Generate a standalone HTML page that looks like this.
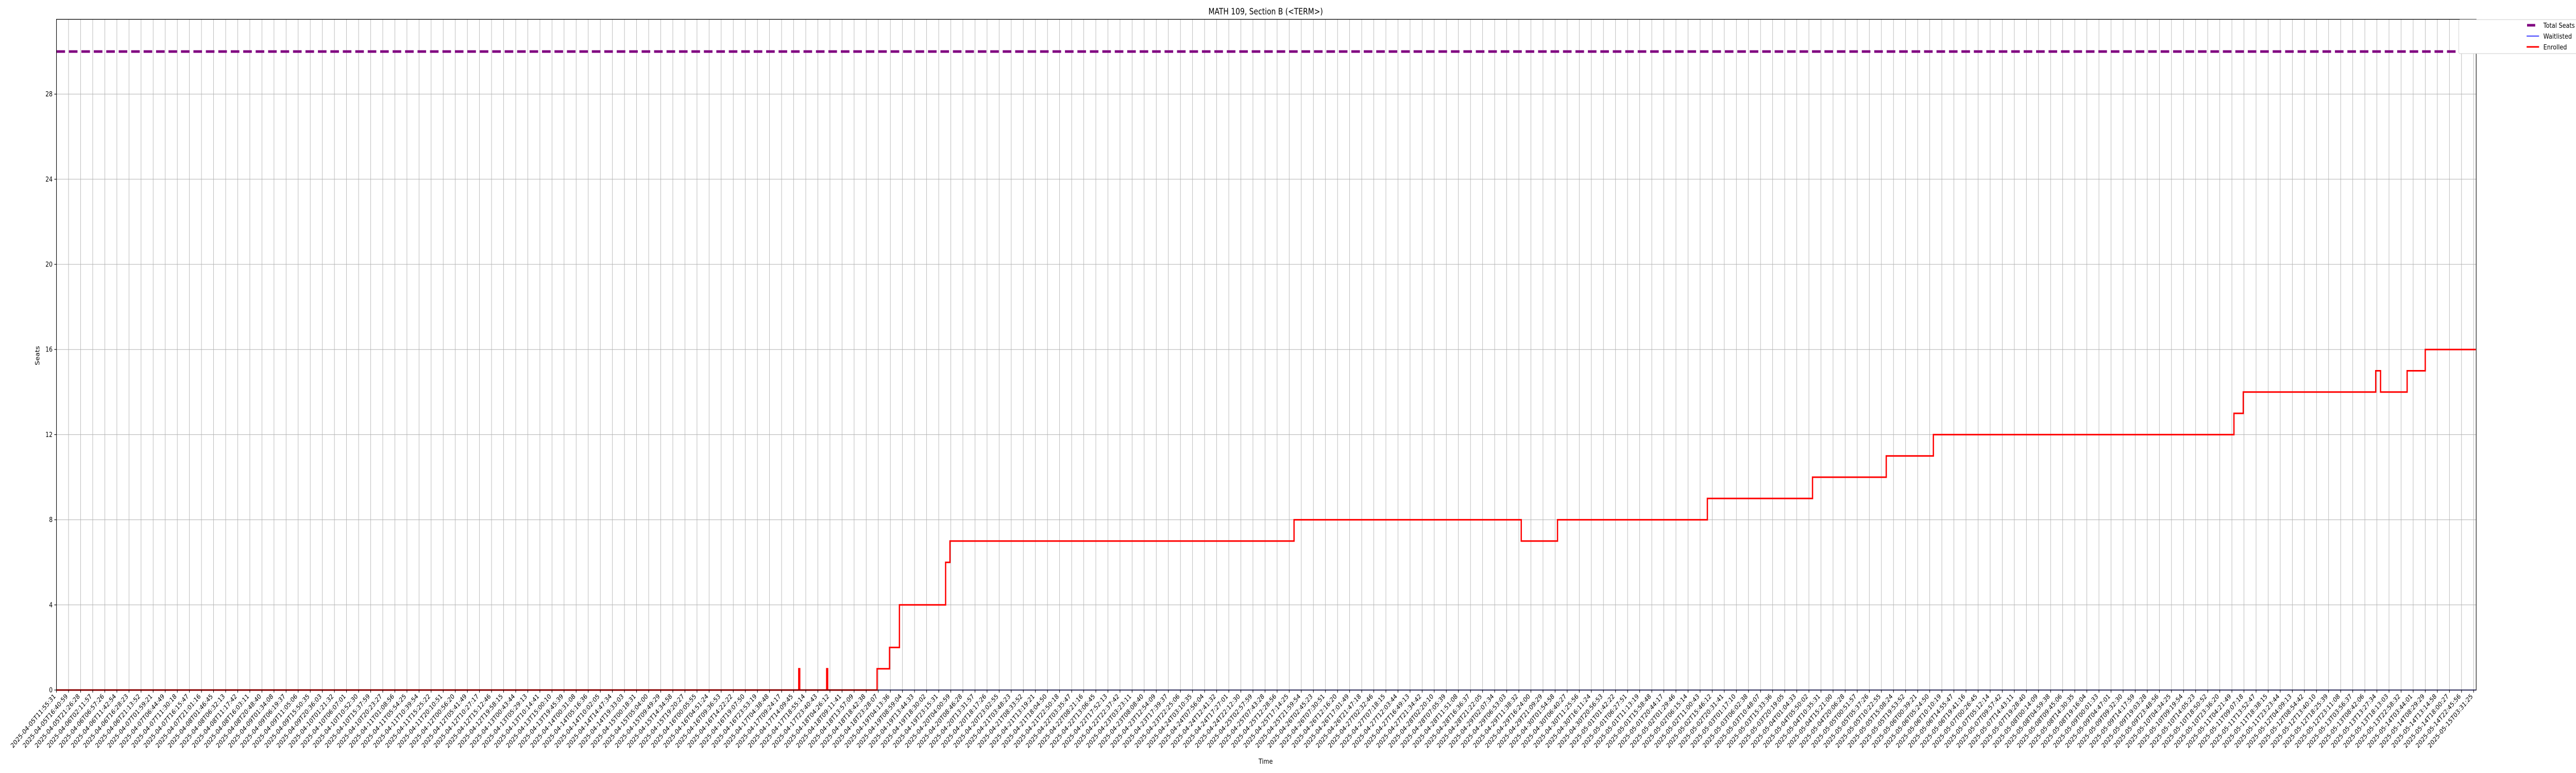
<!DOCTYPE html>
<html>
<head>
<meta charset="utf-8">
<style>
  html,body{margin:0;padding:0;background:#fff;width:100vw;height:100vh;overflow:hidden;}
  svg{display:block;overflow:hidden;width:100vw;height:100vh;font-family:"DejaVu Sans","Liberation Sans",sans-serif;}
</style>
</head>
<body>
<svg id="chart" viewBox="0 0 6000 1500" preserveAspectRatio="none" xmlns="http://www.w3.org/2000/svg">
  <defs><clipPath id="frameclip"><rect x="0" y="0" width="6000" height="1500"/></clipPath></defs>
  <rect x="0" y="0" width="6000" height="1500" fill="#fff"/>
  <text x="2948" y="28" font-size="16.7" text-anchor="middle" fill="#000">MATH 109, Section B (&lt;TERM&gt;)</text>
  <text x="2948" y="1482" font-size="13.5" text-anchor="middle" fill="#000">Time</text>
  <text x="0" y="0" font-size="13.5" text-anchor="middle" fill="#000" transform="translate(92,690) rotate(-90)">Seats</text>
  <g id="grid"></g>
  <g id="series"></g>
  <rect x="131.5" y="37.5" width="5636" height="1301.5" fill="none" stroke="#000" stroke-width="1.3"/>
  <g id="ticks"></g>
  <g id="legend" clip-path="url(#frameclip)">
    <rect x="5727" y="38" width="290" height="66" rx="3" fill="#fff" stroke="#ccc" stroke-width="1"/>
    <line x1="5886" y1="49" x2="5905" y2="49" stroke="#800080" stroke-width="5"/>
    <text x="5924" y="54" font-size="13.5" fill="#000">Total Seats</text>
    <line x1="5885" y1="70" x2="5914" y2="70" stroke="#0000ff" stroke-width="1.5"/>
    <text x="5924" y="75" font-size="13.5" fill="#000">Waitlisted</text>
    <line x1="5885" y1="91" x2="5914" y2="91" stroke="#ff0000" stroke-width="3"/>
    <text x="5924" y="96" font-size="13.5" fill="#000">Enrolled</text>
  </g>
</svg>
<script>
// ---- data ----
const yTicks = [0, 4, 8, 12, 16, 20, 24, 28];
const totalSeats = 30;
const waitlistedValue = 0;
// enrolled step changes: [category-position, new value]
const enrolledSteps = [
  [0, 0], [61.42, 1], [61.50, 0], [63.73, 1], [63.81, 0],
  [67.9, 1], [68.93, 2], [69.75, 4], [73.57, 6], [73.93, 7],
  [102.4, 8], [121.2, 7], [124.2, 8], [136.6, 9], [145.3, 10],
  [151.4, 11], [155.3, 12], [180.17, 13], [180.94, 14],
  [191.9, 15], [192.3, 14], [194.5, 15], [196.0, 16]
];
const tickCount = 201;
const firstLabel = "2025-04-05T11:55:31";
const lastLabel = "2025-05-15T03:31:25";

// ---- axes ----
const X0 = 131.5, DX = 28.15, XMAX = 5767.5;
const Y0 = 1339, DY = 41.3;
const xs = i => X0 + i * DX;
const ys = v => Y0 - v * DY;
const NS = "http://www.w3.org/2000/svg";
function mk(tag, attrs, parent) {
  const el = document.createElementNS(NS, tag);
  for (const k in attrs) el.setAttribute(k, attrs[k]);
  parent.appendChild(el);
  return el;
}
const grid = document.getElementById('grid');
const ticks = document.getElementById('ticks');
const series = document.getElementById('series');

const t0 = Date.parse(firstLabel + "Z"), t1 = Date.parse(lastLabel + "Z");
const xLabels = [];
for (let i = 0; i < tickCount; i++) {
  const t = new Date(t0 + (t1 - t0) * i / (tickCount - 1));
  xLabels.push(t.toISOString().slice(0, 19));
}

for (let i = 0; i < tickCount; i++) {
  const x = xs(i);
  const g = mk('line', {x1: x, y1: 37.5, x2: x, y2: Y0, stroke: '#b0b0b0', 'stroke-width': 1}, grid);
  
  
  const t = mk('line', {x1: x, y1: Y0, x2: x, y2: Y0 + 5, stroke: '#000', 'stroke-width': 1.2}, ticks);
  
  
  const lab = mk('text', {x: 0, y: 0, 'font-size': 13, 'text-anchor': 'end', fill: '#000',
    transform: `translate(${x - 1},${Y0 + 13}) rotate(-45)`}, ticks);
  lab.textContent = xLabels[i];
  
  
}
for (const v of yTicks) {
  const y = ys(v);
  const g = mk('line', {x1: X0, y1: y, x2: XMAX, y2: y, stroke: '#b0b0b0', 'stroke-width': 1}, grid);
  
  
  const t = mk('line', {x1: X0 - 5, y1: y, x2: X0, y2: y, stroke: '#000', 'stroke-width': 1.2}, ticks);
  
  
  const lab = mk('text', {x: X0 - 9, y: y + 4.5, 'font-size': 13, 'text-anchor': 'end', fill: '#000'}, ticks);
  lab.textContent = v;
  
  
}

const tl = mk('line', {x1: X0, y1: ys(totalSeats), x2: XMAX, y2: ys(totalSeats), stroke: '#800080',
  'stroke-width': 5, 'stroke-dasharray': '20 9'}, series);



const wl = mk('line', {x1: X0, y1: ys(waitlistedValue), x2: XMAX, y2: ys(waitlistedValue), stroke: '#0000ff',
  'stroke-width': 1.5}, series);



let d = '';
enrolledSteps.forEach(([p, v], k) => {
  const x = xs(p), y = ys(v);
  if (k === 0) d += `M${x},${y}`;
  else d += `H${x}V${y}`;
});
d += `H${XMAX - 1}`;
const el = mk('path', {d: d, fill: 'none', stroke: '#ff0000', 'stroke-width': 3, 'stroke-linejoin': 'miter'}, series);


</script>
</body>
</html>
